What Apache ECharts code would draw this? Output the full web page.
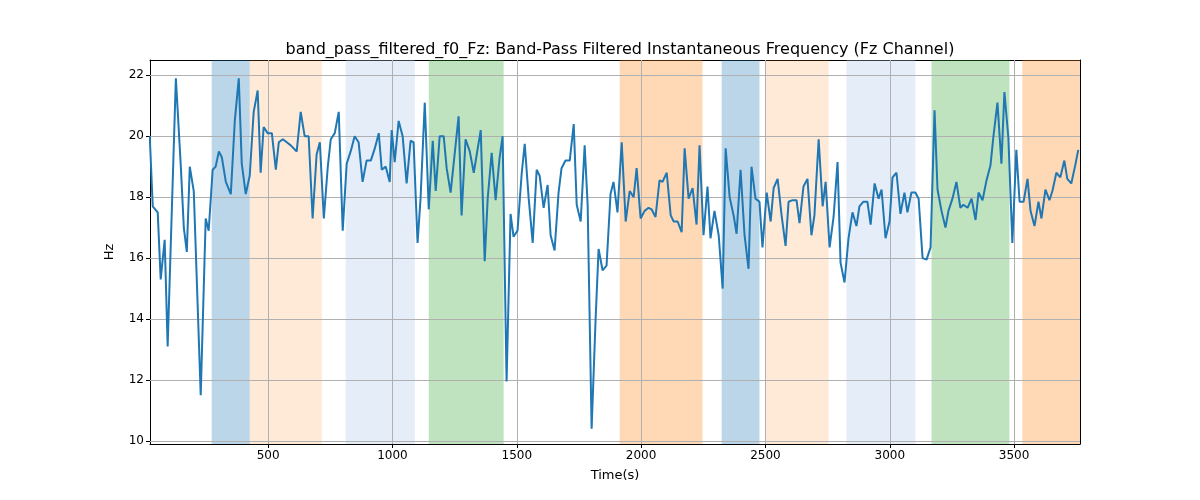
<!DOCTYPE html>
<html lang="en">
<head>
<meta charset="UTF-8">
<title>band_pass_filtered_f0_Fz</title>
<script src="https://cdn.jsdelivr.net/npm/echarts@6/dist/echarts.min.js"></script>
<style>
    body { margin: 0; background: #fff; }
    #main { width: 1200px; height: 500px; }
</style>
</head>
<body>
<div id="main"></div>
<script>
    // time (s) and frequency (Hz)
    const times = [24,36,56,68,84,96,129,149,161,173,185,201,229,249,261,277,289,302,314,330,350,366,382,394,410,426,442,458,470,482,498,515,531,543,559,575,591,615,631,647,663,679,695,708,724,740,752,768,784,800,816,832,848,864,880,896,913,929,945,957,973,989,
        997,1009,1025,1041,1057,1073,1085,1101,1113,1130,1146,1162,1174,1190,1206,1218,1234,1266,1278,1294,1311,1327,1339,1355,1371,1383,1399,1415,1431,1443,1459,1475,1487,1503,1520,1532,1548,1564,1580,1592,1608,1624,1636,1652,1668,1680,1696,1713,1729,1741,1757,1773,1785,1801,1817,1829,1845,1861,1877,1889,1905,
        1922,1938,1954,1970,1982,1998,2014,2030,2042,2058,2074,2086,2103,2119,2131,2147,2163,2175,2191,2207,2223,2235,2251,2267,2279,2295,2312,2328,2340,2356,2372,2384,2400,2416,2432,2444,2460,2476,2488,2505,2521,2533,2549,2565,2581,2593,2609,2625,2637,2653,2669,2685,2697,2714,2730,2742,2758,2774,2790,2802,2818,
        2834,2850,2866,2878,2894,2910,2923,2939,2955,2967,2983,2999,3011,3027,3043,3059,3071,3087,3103,3116,3132,3148,3164,3180,3192,3208,3224,3236,3252,3268,3284,3296,3313,3329,3345,3357,3373,3389,3405,3417,3433,3449,3461,3477,3493,3509,3522,3538,3554,3566,3582,3598,3610,3626,3642,3654,3670,3686,3702,3714,3730,3746,3758];
    const freq = [20.0,17.7,17.5,15.3,16.6,13.1,21.9,19.0,17.0,16.2,19.0,18.2,11.5,17.3,16.9,18.9,19.0,19.5,19.3,18.5,18.1,20.5,21.9,19.1,18.1,18.7,20.8,21.5,18.8,20.3,20.1,20.1,18.9,19.8,19.9,19.8,19.7,19.5,20.8,20.0,20.0,17.3,19.4,19.8,17.3,19.0,19.9,20.1,20.8,16.9,19.1,19.5,20.0,19.8,18.5,19.2,19.2,19.6,20.1,18.9,19.0,18.5,
        20.2,19.15,20.5,20.0,18.45,19.85,19.8,16.5,17.95,21.1,17.6,19.85,18.2,20.0,20.0,18.95,18.15,20.65,17.4,19.9,19.5,18.8,19.4,20.2,15.9,17.95,19.45,17.9,19.3,20.0,11.95,17.45,16.7,16.9,18.8,19.75,17.95,16.5,18.9,18.7,17.65,18.4,16.75,16.25,18.15,18.95,19.2,19.2,20.4,17.75,17.2,19.7,17.75,10.4,14.0,16.3,15.6,15.75,18.1,18.5,17.5,
        19.8,17.2,18.2,18.0,18.95,17.3,17.55,17.65,17.6,17.35,18.55,18.5,18.8,17.4,17.2,17.2,16.85,19.6,17.95,18.3,17.1,19.7,16.75,18.35,16.65,17.55,16.75,15.0,19.6,18.0,17.4,16.8,18.9,16.75,15.65,19.0,17.95,17.85,16.35,18.15,17.2,18.3,18.6,17.4,16.4,17.85,17.9,17.9,17.15,18.35,18.6,16.75,17.4,19.9,17.7,18.5,16.35,17.35,19.15,15.85,15.2,
        16.65,17.5,17.05,17.7,17.85,17.85,17.1,18.45,17.95,18.25,16.65,17.2,18.65,18.8,17.45,18.15,17.5,18.15,18.15,17.95,16.0,15.95,16.35,20.85,18.25,17.55,17.0,17.55,17.95,18.5,17.65,17.75,17.65,17.95,17.25,18.15,17.9,18.55,19.05,20.0,21.1,19.1,21.45,19.95,16.5,19.55,17.85,17.85,18.6,17.55,17.05,17.85,17.3,18.25,17.9,18.2,18.8,18.65,19.2,18.6,18.45,19.05,19.55];

    // shaded intervals: [start, end, colour]
    const bandStarts = [273, 426, 812, 1146, 1914, 2324, 2501, 2826, 3168, 3533];
    const bandEnds   = [426, 716, 1090, 1447, 2247, 2476, 2754, 3103, 3481, 3765];
    const bandColors = ['rgba(31,119,180,0.3)', 'rgba(255,127,14,0.16)', 'rgba(174,199,232,0.32)', 'rgba(44,160,44,0.3)',
        'rgba(255,127,14,0.3)', 'rgba(31,119,180,0.3)', 'rgba(255,127,14,0.16)', 'rgba(174,199,232,0.32)',
        'rgba(44,160,44,0.3)', 'rgba(255,127,14,0.3)'];

    const xTicks = [500, 1000, 1500, 2000, 2500, 3000, 3500];
    const yTicks = [10, 12, 14, 16, 18, 20, 22];

    const gridStyle = {color: '#b0b0b0', width: 1, type: 'solid'};
    const font = {fontFamily: 'DejaVu Sans', fontSize: 12, color: '#000'};
    const chart = echarts.init(document.getElementById('main'));
    chart.setOption({
        animation: false,
        title: {
            text: 'band_pass_filtered_f0_Fz: Band-Pass Filtered Instantaneous Frequency (Fz Channel)',
            left: 615, top: 37, textAlign: 'center',
            textStyle: {fontFamily: 'DejaVu Sans', fontSize: 16, fontWeight: 'normal', color: '#000'}
        },
        grid: {left: 150, right: 120, top: 60, bottom: 56},
        xAxis: [{
            type: 'value', min: 25, max: 3765,
            name: 'Time(s)', nameLocation: 'middle', nameGap: 25,
            nameTextStyle: {fontFamily: 'DejaVu Sans', fontSize: 13, color: '#000'},
            axisLine: {onZero: false, lineStyle: {color: '#000'}},
            axisTick: {show: true, customValues: xTicks, length: 4, lineStyle: {color: '#000'}},
            axisLabel: Object.assign({customValues: xTicks, margin: 6, formatter: v => String(v)}, font),
            splitLine: {show: false}
        }, {
            type: 'value', min: 25, max: 3765, position: 'top',
            axisLine: {onZero: false, lineStyle: {color: '#000'}},
            axisTick: {show: false}, axisLabel: {show: false}, splitLine: {show: false}
        }],
        yAxis: [{
            type: 'value', min: 9.9, max: 22.5,
            name: 'Hz', nameLocation: 'middle', nameGap: 34,
            nameTextStyle: {fontFamily: 'DejaVu Sans', fontSize: 13, color: '#000'},
            axisLine: {show: true, onZero: false, lineStyle: {color: '#000'}},
            axisTick: {show: true, customValues: yTicks, length: 4, lineStyle: {color: '#000'}},
            axisLabel: Object.assign({customValues: yTicks, margin: 6}, font),
            splitLine: {show: false}
        }, {
            type: 'value', min: 9.9, max: 22.5, position: 'right',
            axisLine: {show: true, onZero: false, lineStyle: {color: '#000'}},
            axisTick: {show: false}, axisLabel: {show: false}, splitLine: {show: false}
        }],
        series: [
            {
                type: 'line', silent: true, data: [],
                markArea: {
                    silent: true,
                    data: bandStarts.map((s, i) => [{xAxis: s, itemStyle: {color: bandColors[i]}}, {xAxis: bandEnds[i]}])
                },
                markLine: {
                    silent: true, symbol: 'none', label: {show: false}, lineStyle: gridStyle,
                    data: xTicks.map(v => ({xAxis: v})).concat(yTicks.map(v => ({yAxis: v})))
                }
            },
            {
                type: 'line', showSymbol: false, silent: true,
                data: times.map((t, i) => [t, freq[i]]),
                lineStyle: {color: '#1f77b4', width: 2},
                z: 5
            }
        ]
    });
</script>
</body>
</html>
